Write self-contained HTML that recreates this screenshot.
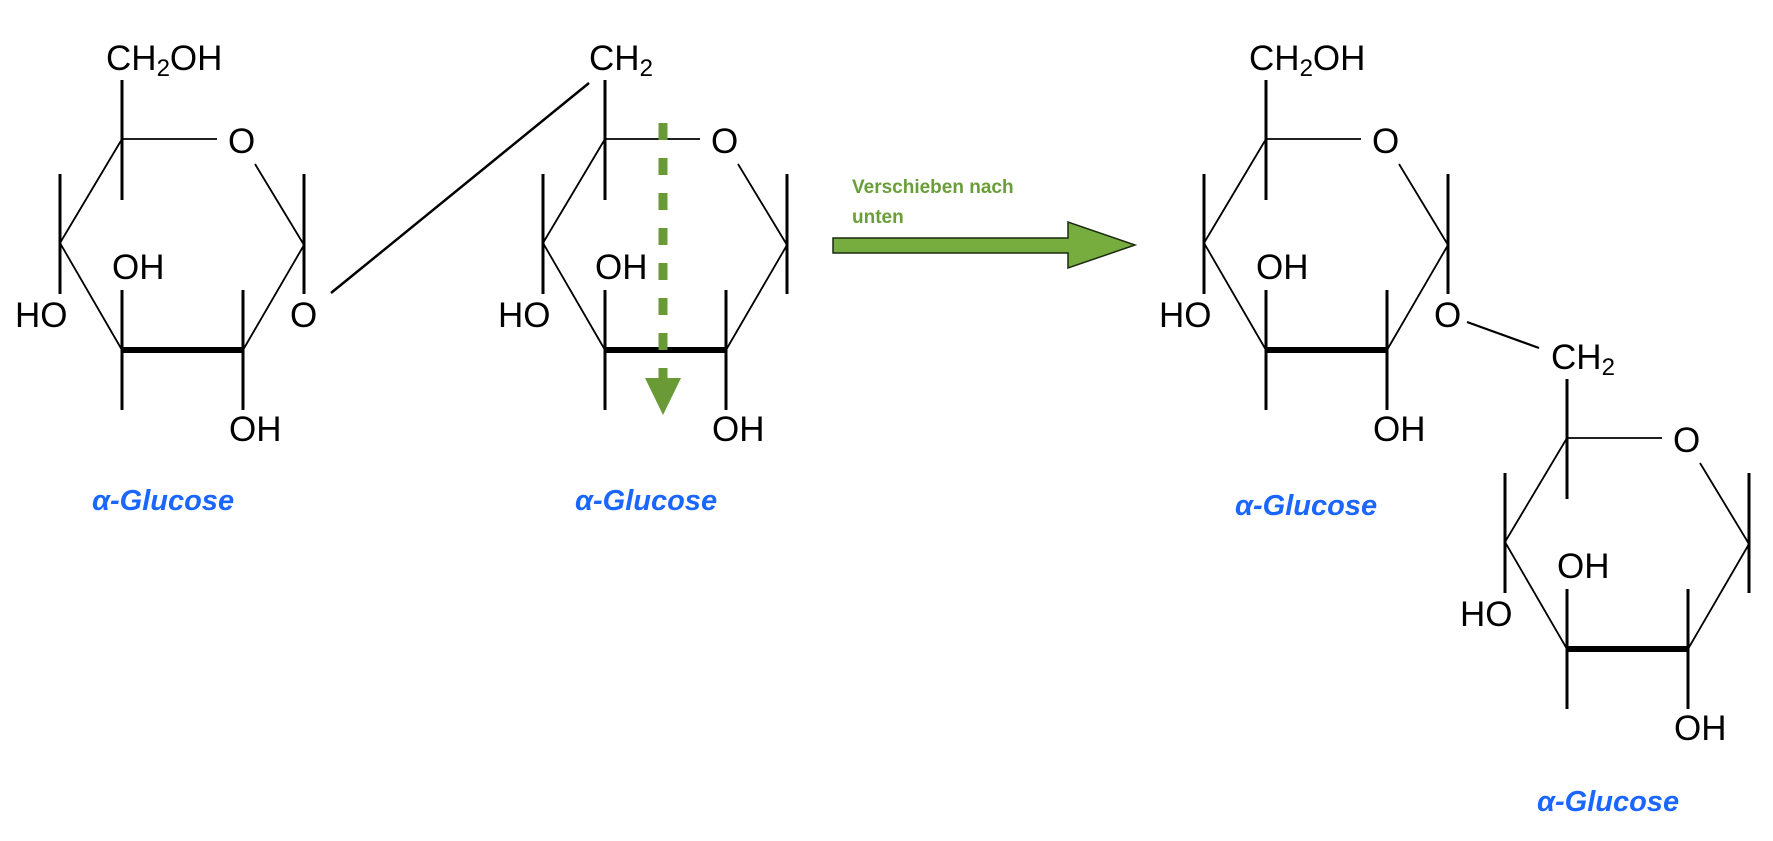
<!DOCTYPE html>
<html><head><meta charset="utf-8"><style>
html,body{margin:0;padding:0;background:#fff;}
svg{display:block;}
.t{font-family:"Liberation Sans",sans-serif;font-size:35px;fill:#000;}
.g{font-family:"Liberation Sans",sans-serif;font-size:29px;font-weight:bold;font-style:italic;fill:#1a66ff;}
.v{stroke:#000;stroke-width:3;}
.d{stroke:#000;stroke-width:1.8;fill:none;}
</style></head><body>
<svg width="1773" height="841" viewBox="0 0 1773 841" xmlns="http://www.w3.org/2000/svg">
<defs>
<g id="ring">
  <line class="v" x1="122" y1="80" x2="122" y2="200"/>
  <line class="d" x1="122" y1="139" x2="217" y2="139"/>
  <text class="t" x="228" y="153">O</text>
  <line class="d" x1="255" y1="164" x2="304" y2="245"/>
  <line class="d" x1="122" y1="139" x2="60" y2="243"/>
  <line class="d" x1="60" y1="243" x2="122" y2="350"/>
  <line class="d" x1="304" y1="245" x2="243" y2="350"/>
  <line x1="122" y1="350" x2="243" y2="350" stroke="#000" stroke-width="6"/>
  <line class="v" x1="60" y1="174" x2="60" y2="294"/>
  <line class="v" x1="304" y1="174" x2="304" y2="294"/>
  <line class="v" x1="122" y1="290" x2="122" y2="410"/>
  <line class="v" x1="243" y1="290" x2="243" y2="410"/>
  <text class="t" x="112" y="279">OH</text>
  <text class="t" x="15" y="327">HO</text>
  <text class="t" x="229" y="441">OH</text>
</g>
</defs>
<!-- ring 1 -->
<use href="#ring"/>
<text class="t" x="106" y="70">CH<tspan font-size="24" dy="6">2</tspan><tspan dy="-6">OH</tspan></text>
<text class="t" x="290" y="327">O</text>
<text class="g" x="92" y="510">α-Glucose</text>
<line x1="331" y1="293" x2="589" y2="83" stroke="#000" stroke-width="2.5"/>
<!-- ring 2 -->
<use href="#ring" transform="translate(483,0)"/>
<text class="t" x="589" y="70">CH<tspan font-size="24" dy="6">2</tspan></text>
<text class="g" x="575" y="510">α-Glucose</text>
<line x1="663" y1="123" x2="663" y2="378" stroke="#6a9a35" stroke-width="9" stroke-dasharray="17 18"/>
<polygon points="645,378 681,378 663,415" fill="#6a9a35"/>
<!-- arrow -->
<text x="852" y="193" font-family="Liberation Sans,sans-serif" font-size="19" font-weight="bold" fill="#6a9e38">Verschieben nach</text>
<text x="852" y="223" font-family="Liberation Sans,sans-serif" font-size="19" font-weight="bold" fill="#6a9e38">unten</text>
<polygon points="833,238 1068,238 1068,222 1135,245 1068,268 1068,253 833,253" fill="#77ac3f" stroke="#1a2a10" stroke-width="1.5"/>
<!-- ring 3 -->
<use href="#ring" transform="translate(1144,0)"/>
<text class="t" x="1249" y="70">CH<tspan font-size="24" dy="6">2</tspan><tspan dy="-6">OH</tspan></text>
<text class="t" x="1434" y="327">O</text>
<text class="g" x="1235" y="515">α-Glucose</text>
<line x1="1467" y1="322" x2="1539" y2="348" stroke="#000" stroke-width="2.2"/>
<text class="t" x="1551" y="369">CH<tspan font-size="24" dy="6">2</tspan></text>
<!-- ring 4 -->
<use href="#ring" transform="translate(1445,299)"/>
<text class="g" x="1537" y="811">α-Glucose</text>
</svg>
</body></html>
